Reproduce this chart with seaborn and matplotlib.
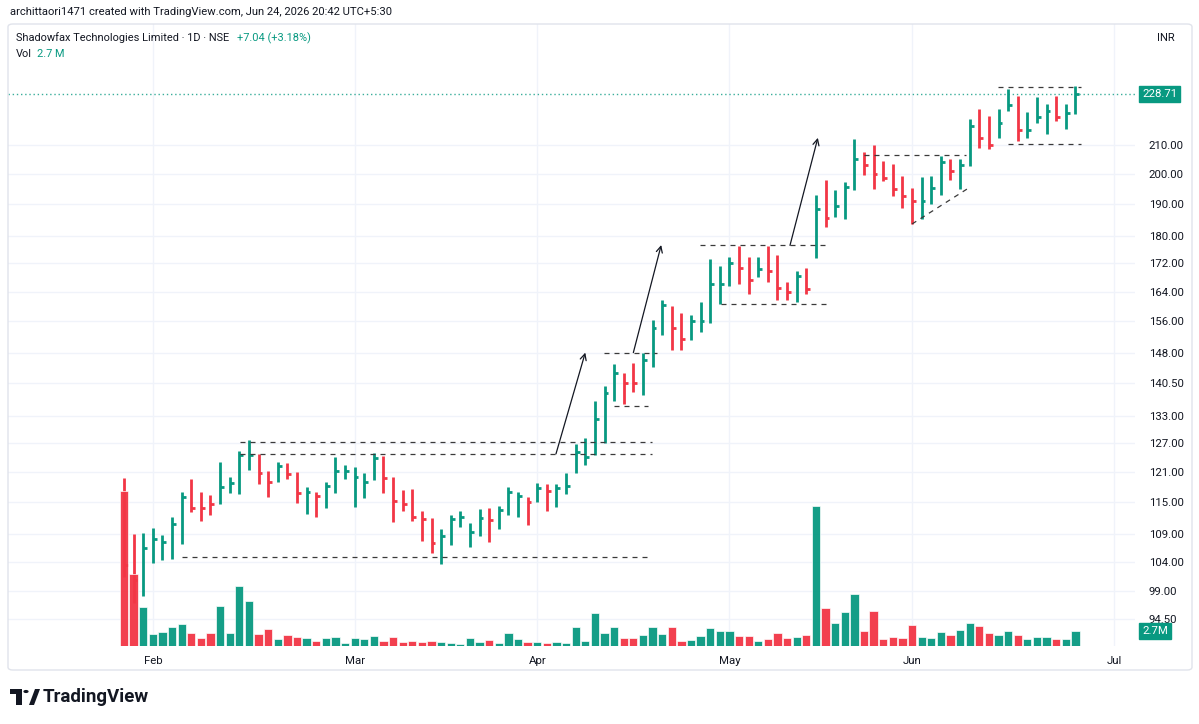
import numpy as np
import pandas as pd
import matplotlib
matplotlib.use("Agg")
import matplotlib.pyplot as plt
import matplotlib.patches as mpatches
from matplotlib.ticker import NullLocator
import seaborn as sns

UP = "#089981"
DOWN = "#F23645"
TXT = "#131722"
GRID = "#F0F3FA"

# daily HLC bars, Jan 28 .. Jun 24 2026 (bar index 0..99)
highs = [119.8, 109.0, 109.3, 110.1, 108.9, 112.3, 117.0, 119.6, 117.1, 116.5,
         123.0, 120.1, 125.5, 127.8, 124.8, 121.2, 123.1, 122.8, 121.0, 118.1,
         117.0, 119.0, 124.1, 122.5, 122.1, 120.8, 125.0, 124.4, 120.0, 117.5,
         117.6, 113.4, 112.0, 110.0, 112.5, 113.4, 111.0, 113.7, 114.0, 114.4,
         118.1, 117.0, 116.0, 118.8, 118.6, 118.6, 120.8, 126.9, 128.2, 136.5,
         140.0, 145.2, 143.1, 145.4, 147.9, 156.4, 161.8, 160.0, 158.3, 157.8,
         161.1, 173.2, 171.2, 173.9, 177.0, 173.9, 173.9, 177.0, 174.4, 166.8,
         169.7, 170.7, 193.1, 197.9, 194.5, 197.3, 212.2, 207.5, 209.8, 204.3,
         203.3, 199.2, 195.2, 198.9, 199.2, 206.0, 204.9, 205.0, 219.4, 223.2,
         220.5, 223.2, 230.8, 227.9, 222.0, 227.5, 225.0, 227.9, 224.8, 232.0]
lows = [101.5, 97.0, 98.2, 103.9, 104.3, 104.6, 107.2, 113.1, 111.4, 112.5,
        114.6, 116.8, 116.7, 121.5, 118.7, 116.1, 119.0, 119.6, 114.9, 112.8,
        112.3, 113.9, 116.8, 119.6, 114.1, 115.9, 119.5, 116.9, 111.2, 113.3,
        111.4, 107.7, 105.6, 103.7, 107.0, 110.4, 106.6, 108.6, 107.6, 110.0,
        112.6, 112.2, 110.8, 115.0, 113.4, 114.2, 116.6, 120.9, 122.5, 124.6,
        127.1, 136.5, 135.8, 138.6, 137.7, 144.4, 152.5, 148.7, 148.7, 151.1,
        153.3, 155.6, 160.6, 165.6, 166.1, 163.3, 168.0, 166.8, 161.6, 161.6,
        161.1, 163.3, 173.7, 182.8, 186.0, 185.3, 194.7, 199.6, 194.8, 197.6,
        192.7, 188.7, 183.8, 185.2, 190.1, 192.9, 198.0, 194.8, 202.7, 208.8,
        208.6, 212.6, 222.2, 211.2, 212.6, 217.8, 213.7, 218.7, 215.7, 221.3]
closes = [103.5, 101.0, 106.5, 108.2, 107.5, 110.9, 116.1, 114.0, 113.9, 114.6,
          118.1, 118.9, 124.5, 124.6, 120.8, 119.1, 122.2, 120.7, 116.8, 117.1,
          116.2, 118.3, 121.2, 121.2, 120.1, 119.0, 123.9, 119.8, 115.2, 114.7,
          112.2, 111.8, 107.4, 108.6, 111.8, 112.2, 109.4, 112.0, 111.7, 113.6,
          117.1, 116.2, 115.0, 117.8, 117.2, 117.8, 118.2, 125.2, 124.1, 132.3,
          138.3, 143.0, 140.7, 140.6, 146.1, 154.3, 160.4, 154.3, 151.5, 156.0,
          156.0, 166.0, 166.0, 172.2, 170.7, 167.3, 170.5, 169.7, 164.9, 163.9,
          168.3, 164.6, 188.4, 185.7, 189.5, 195.6, 204.9, 203.0, 200.0, 198.6,
          194.8, 192.7, 190.9, 190.9, 195.2, 204.0, 201.1, 203.1, 216.9, 212.6,
          210.0, 218.0, 224.4, 215.3, 215.3, 220.1, 222.5, 220.1, 221.67, 228.71]
# volume in millions
volumes = [28.5, 13.2, 7.1, 2.2, 2.6, 3.4, 4.1, 2.4, 1.4, 2.3,
           7.4, 2.3, 11.1, 8.3, 2.2, 3.1, 1.3, 2.1, 1.7, 1.4,
           0.9, 1.4, 1.7, 0.6, 1.4, 1.3, 1.9, 1.0, 1.7, 0.7,
           0.9, 0.7, 1.0, 0.7, 0.55, 0.42, 1.5, 0.68, 1.1, 0.55,
           2.3, 1.2, 0.7, 0.7, 0.5, 0.68, 0.55, 3.4, 1.0, 6.0,
           2.4, 3.4, 1.5, 1.5, 2.1, 3.5, 2.2, 3.4, 1.0, 1.1,
           1.8, 3.3, 2.8, 2.8, 1.8, 1.8, 0.9, 1.3, 2.4, 1.4,
           1.6, 2.0, 25.7, 6.9, 4.2, 6.2, 9.6, 2.8, 6.5, 1.2,
           1.7, 1.5, 3.9, 1.7, 1.5, 2.6, 2.0, 2.9, 4.2, 3.7,
           2.3, 2.1, 2.7, 2.1, 1.2, 1.6, 1.7, 1.2, 1.3, 2.7]
direction = ("dduuuuuddd" "uuuudduddu" "duuuuuuddd" "ddduuuuudu" "uududuuuuu"
             "uudduuuddu" "uuuudduddd" "ududuuuddd" "ddduuuduud" "duuduuuduu")

month_pos = [3, 24, 43, 63, 82, 103]
month_names = ["Feb", "Mar", "Apr", "May", "Jun", "Jul"]
price_ticks = [94.5, 99, 104, 109, 115, 121, 127, 133, 140.5, 148,
               156, 164, 172, 180, 190, 200, 210]

# drawn guides: (start bar, end bar, price)
guide_levels = [(6.0, 54.9, 104.9), (12.1, 54.9, 127.4), (12.1, 54.9, 124.8),
                (51.0, 54.5, 135.2), (49.9, 55.5, 148.0),
                (59.9, 73.0, 177.3), (62.1, 73.0, 160.5),
                (77.0, 87.6, 206.6), (90.9, 99.6, 231.6), (92.0, 99.6, 210.3)]
guide_slope = [(82.0, 183.8), (88.0, 195.5)]
arrows = [((44.95, 124.8), (48.0, 148.0)),
          ((53.0, 148.0), (55.9, 177.4)),
          ((69.3, 177.3), (72.2, 212.5))]

last_close = 228.71
last_vol = 2.7

df = pd.DataFrame({"bar": np.arange(len(closes)), "high": highs, "low": lows,
                   "close": closes, "vol": volumes,
                   "dir": list(direction)})
colors = [UP if d == "u" else DOWN for d in df["dir"]]

sns.set_theme(style="white")
plt.rcParams["font.family"] = ["Roboto", "DejaVu Sans"]

W, H = 1199, 724
fig = plt.figure(figsize=(W / 100, H / 100), dpi=100)
ax = fig.add_axes([8 / W, 78 / H, 1127 / W, 622 / H])

# volume pane (overlay)
axv = ax.twinx()
sns.barplot(data=df, x="bar", y="vol", hue="dir", palette={"u": UP, "d": DOWN},
            dodge=False, width=0.86, errorbar=None, legend=False, saturation=1,
            edgecolor="#ffffff", linewidth=0.5, alpha=0.95, ax=axv, zorder=3)
axv.set_ylim(0, 114.3)
axv.set_yticks([])
axv.set_ylabel("")
axv.set_xlabel("")

# HLC bars
ax.vlines(df["bar"], df["low"], df["high"], colors=colors, linewidth=2.0, zorder=2)
ax.hlines(df["close"], df["bar"], df["bar"] + 0.4, colors=colors, linewidth=2.0, zorder=2)

ax.set_yscale("log")
ax.set_ylim(90.3, 257.4)
ax.set_xlim(-12.07, 105.2)
ax.set_yticks(price_ticks)
ax.set_yticklabels([f"{p:.2f}" for p in price_ticks])
ax.yaxis.set_minor_locator(NullLocator())
ax.yaxis.tick_right()
ax.tick_params(axis="y", length=0, pad=10, labelsize=8.2, labelcolor=TXT)
ax.set_xticks(month_pos)
ax.set_xticklabels(month_names)
ax.tick_params(axis="x", length=0, pad=7, labelsize=8.2, labelcolor=TXT)
ax.grid(True, color=GRID, linewidth=1, zorder=0)
ax.set_axisbelow(True)
for a in (ax, axv):
    for s in a.spines.values():
        s.set_visible(False)
    a.set_xlim(-12.07, 105.2)

# last price line
ax.axhline(last_close, color=UP, linewidth=1, linestyle=(0, (1, 2)), alpha=0.8, zorder=1)
ax.annotate(f"{last_close:.2f}", xy=(1, last_close), xycoords=("axes fraction", "data"),
            xytext=(5, 0), textcoords="offset points", ha="left", va="center",
            color="white", fontsize=8.2,
            bbox=dict(boxstyle="square,pad=0.25", fc=UP, ec=UP))
axv.annotate(f"{last_vol}M", xy=(1, last_vol), xycoords=("axes fraction", "data"),
             xytext=(5, 0), textcoords="offset points", ha="left", va="center",
             color="white", fontsize=8.2,
             bbox=dict(boxstyle="square,pad=0.25", fc=UP, ec=UP))

# drawn guides
for x0, x1, y in guide_levels:
    ax.hlines(y, x0, x1, colors="#3a3a3a", linewidth=0.9, linestyles=(0, (4, 4)), zorder=4)
ax.plot([guide_slope[0][0], guide_slope[1][0]], [guide_slope[0][1], guide_slope[1][1]],
        color="#3a3a3a", linewidth=0.9, linestyle=(0, (4, 4)), zorder=4)
for start, tip in arrows:
    ax.annotate("", xy=tip, xytext=start,
                arrowprops=dict(arrowstyle="->", color=TXT, lw=0.9,
                                mutation_scale=11, shrinkA=0, shrinkB=0), zorder=4)

# header / legend texts
fig.text(10 / W, 1 - 12 / H, "archittaori1471 created with TradingView.com, Jun 24, 2026 20:42 UTC+5:30",
         ha="left", va="center", fontsize=8.1, color=TXT)
fig.text(16 / W, 1 - 38 / H, "Shadowfax Technologies Limited · 1D · NSE",
         ha="left", va="center", fontsize=7.9, color=TXT)
fig.text(237 / W, 1 - 38 / H, "+7.04 (+3.18%)", ha="left", va="center", fontsize=7.9, color=UP)
fig.text(16 / W, 1 - 54 / H, "Vol", ha="left", va="center", fontsize=7.9, color=TXT)
fig.text(37 / W, 1 - 54 / H, "2.7 M", ha="left", va="center", fontsize=7.9, color=UP)
fig.text(1157 / W, 1 - 38 / H, "INR", ha="left", va="center", fontsize=8.0, color=TXT)

# frame around the chart
fig.patches.append(mpatches.FancyBboxPatch((8 / W, 54 / H), 1184 / W, 646 / H,
                                           boxstyle="round,pad=0,rounding_size=0.004",
                                           transform=fig.transFigure, fill=False,
                                           ec="#E0E3EB", lw=1))

# TradingView logo + wordmark
fig.patches.append(mpatches.Rectangle((10 / W, 1 - 694 / H), 12 / W, 5 / H,
                                      transform=fig.transFigure, fc=TXT, ec="none"))
fig.patches.append(mpatches.Rectangle((16 / W, 1 - 705 / H), 6 / W, 12 / H,
                                      transform=fig.transFigure, fc=TXT, ec="none"))
fig.patches.append(mpatches.Circle((26 / W, 1 - 691.5 / H), 2.6 / W,
                                   transform=fig.transFigure, fc=TXT, ec="none"))
fig.patches.append(mpatches.Polygon([(29 / W, 1 - 705 / H), (35 / W, 1 - 689 / H),
                                     (40 / W, 1 - 689 / H), (34 / W, 1 - 705 / H)],
                                    closed=True, transform=fig.transFigure, fc=TXT, ec="none"))
fig.text(43 / W, 1 - 697 / H, "TradingView", ha="left", va="center",
         fontsize=13.5, fontweight="bold", color=TXT)

fig.savefig("out.png", dpi=100)
plt.close(fig)
